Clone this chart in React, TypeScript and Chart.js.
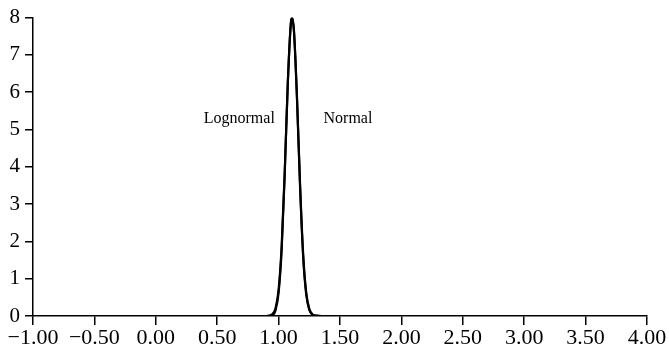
import React, { useEffect, useRef } from "react";
import { Chart, registerables } from "chart.js";

Chart.register(...registerables);

// Curve samples (x, density)
const normalX = [-1.0, 0.9, 0.95, 0.975, 1.0, 1.025, 1.05, 1.075, 1.1, 1.11, 1.125, 1.15, 1.175, 1.2, 1.225, 1.25, 1.275, 1.3, 1.35, 4.0];
const normalY = [0, 0.0, 0.05, 0.21, 0.71, 1.88, 3.88, 6.25, 7.82, 7.98, 7.63, 5.79, 3.43, 1.58, 0.57, 0.16, 0.03, 0.01, 0, 0];
const lognormalX = [-1.0, 0.9, 0.95, 0.975, 1.0, 1.025, 1.05, 1.075, 1.1, 1.11, 1.125, 1.15, 1.175, 1.2, 1.225, 1.25, 1.275, 1.3, 1.35, 4.0];
const lognormalY = [0, 0.0, 0.02, 0.15, 0.62, 1.78, 3.82, 6.25, 7.88, 8.0, 7.66, 5.85, 3.52, 1.67, 0.63, 0.19, 0.05, 0.01, 0, 0];

const xMin = -1;
const xMax = 4;
const xStep = 0.5;
const yMin = 0;
const yMax = 8;
const yStep = 1;

// Curve name labels placed in data coordinates
const curveLabels = ["Lognormal", "Normal"];
const curveLabelX = [0.68, 1.565];
const curveLabelY = [5.3, 5.3];

const FONT = "'Liberation Serif', 'Times New Roman', serif";

export default function App() {
  const ref = useRef<HTMLCanvasElement | null>(null);

  useEffect(() => {
    const canvas = ref.current;
    if (!canvas) return;

    const labelPlugin = {
      id: "curveLabels",
      afterDatasetsDraw(chart: any) {
        const { ctx, scales } = chart;
        ctx.save();
        ctx.fillStyle = "#000";
        ctx.font = `16px ${FONT}`;
        ctx.textAlign = "center";
        ctx.textBaseline = "middle";
        curveLabels.forEach((t, i) => {
          ctx.fillText(t, scales.x.getPixelForValue(curveLabelX[i]), scales.y.getPixelForValue(curveLabelY[i]));
        });
        ctx.restore();
      },
    };

    const chart = new Chart(canvas, {
      type: "line",
      data: {
        datasets: [
          {
            label: "Lognormal",
            data: lognormalX.map((x, i) => ({ x, y: lognormalY[i] })),
            borderColor: "#000",
            borderWidth: 2.2,
            pointRadius: 0,
            cubicInterpolationMode: "monotone",
            fill: false,
          },
          {
            label: "Normal",
            data: normalX.map((x, i) => ({ x, y: normalY[i] })),
            borderColor: "#000",
            borderWidth: 2.2,
            pointRadius: 0,
            cubicInterpolationMode: "monotone",
            fill: false,
          },
        ],
      },
      options: {
        animation: false,
        responsive: true,
        maintainAspectRatio: false,
        layout: { padding: { top: 11, right: 22, left: 0, bottom: 0 } },
        plugins: { legend: { display: false }, tooltip: { enabled: false } },
        scales: {
          x: {
            type: "linear",
            min: xMin,
            max: xMax,
            afterFit: (s: any) => { s.height = 40; },
            afterBuildTicks: (s: any) => {
              const t = [];
              for (let v = xMin; v <= xMax + 1e-9; v += xStep) t.push({ value: v });
              s.ticks = t;
            },
            ticks: {
              color: "#000",
              font: { family: FONT, size: 22 },
              padding: 0,
              maxRotation: 0,
              autoSkip: false,
              callback: (v: any) => Number(v).toFixed(2).replace("-", "\u2212"),
            },
            grid: { display: true, drawOnChartArea: false, drawTicks: true, tickLength: 9, color: "#000", lineWidth: 1.5 },
            border: { display: true, color: "#000", width: 1.5 },
          },
          y: {
            type: "linear",
            min: yMin,
            max: yMax,
            afterFit: (s: any) => { s.width = 33; },
            ticks: {
              stepSize: yStep,
              color: "#000",
              font: { family: FONT, size: 21 },
              padding: 5,
            },
            grid: { display: true, drawOnChartArea: false, drawTicks: true, tickLength: 8, color: "#000", lineWidth: 1.5 },
            border: { display: true, color: "#000", width: 1.5 },
          },
        },
      },
      plugins: [labelPlugin],
    });
    return () => chart.destroy();
  }, []);

  return (
    <div style={{ position: "fixed", left: 0, top: 0, width: 669, height: 356, background: "#fff" }}>
      <canvas ref={ref} />
    </div>
  );
}
